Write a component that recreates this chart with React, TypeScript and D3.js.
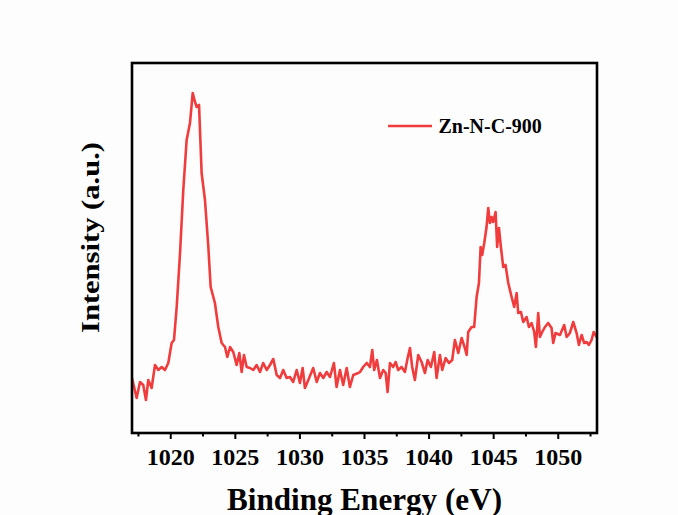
import React from "react";
import * as d3 from "d3";

const energies = [
  1017.0, 1017.36, 1017.62, 1017.87, 1018.08, 1018.26, 1018.52, 1018.78, 1019.04, 1019.3,
  1019.55, 1019.81, 1020.07, 1020.25, 1020.46, 1020.72, 1020.97, 1021.23, 1021.49, 1021.7,
  1021.88, 1022.01, 1022.19, 1022.39, 1022.65, 1022.91, 1023.09, 1023.42, 1023.68, 1023.94,
  1024.2, 1024.38, 1024.59, 1024.84, 1025.1, 1025.31, 1025.49, 1025.67, 1025.88, 1026.13,
  1026.39, 1026.65, 1026.91, 1027.16, 1027.43, 1027.68, 1027.94, 1028.2, 1028.46, 1028.71,
  1028.97, 1029.23, 1029.48, 1029.75, 1030.0, 1030.21, 1030.39, 1030.65, 1031.03, 1031.3,
  1031.55, 1031.81, 1032.07, 1032.33, 1032.63, 1032.84, 1033.1, 1033.35, 1033.62, 1033.87,
  1034.13, 1034.52, 1034.65, 1034.9, 1035.17, 1035.42, 1035.6, 1035.75, 1035.96, 1036.2,
  1036.45, 1036.64, 1036.79, 1036.97, 1037.22, 1037.41, 1037.61, 1037.87, 1038.13, 1038.34,
  1038.52, 1038.69, 1038.9, 1039.16, 1039.42, 1039.68, 1039.89, 1040.14, 1040.4, 1040.58,
  1040.84, 1041.02, 1041.28, 1041.54, 1041.79, 1042.0, 1042.26, 1042.52, 1042.77, 1042.91,
  1043.03, 1043.29, 1043.49, 1043.68, 1043.86, 1043.99, 1044.11, 1044.27, 1044.45, 1044.58,
  1044.71, 1044.84, 1044.96, 1045.15, 1045.27, 1045.41, 1045.56, 1045.74, 1045.92, 1046.13,
  1046.39, 1046.59, 1046.78, 1046.9, 1047.11, 1047.29, 1047.55, 1047.73, 1047.94, 1048.14,
  1048.27, 1048.45, 1048.58, 1048.76, 1048.97, 1049.22, 1049.48, 1049.61, 1049.79, 1050.13,
  1050.46, 1050.65, 1050.9, 1051.16, 1051.42, 1051.6, 1051.81, 1052.01, 1052.2, 1052.37,
  1052.58, 1052.74, 1052.97,
];

const intensities = [
  55, 35, 51, 48, 33, 53, 45, 68, 63, 66,
  63, 70, 90, 93, 126, 180, 243, 293, 310, 340,
  331, 326, 328, 260, 233, 186, 146, 130, 106, 90,
  86, 76, 86, 81, 68, 80, 61, 78, 66, 65,
  63, 68, 61, 70, 63, 68, 74, 58, 55, 63,
  55, 56, 51, 63, 50, 65, 45, 53, 65, 51,
  60, 55, 61, 56, 70, 46, 63, 48, 65, 46,
  58, 60, 61, 66, 70, 66, 83, 63, 73, 55,
  63, 60, 41, 70, 66, 71, 63, 66, 61, 75,
  85, 66, 53, 78, 71, 60, 73, 66, 81, 55,
  78, 63, 75, 70, 73, 93, 80, 95, 85, 78,
  101, 106, 106, 136, 150, 186, 178, 190, 206, 225,
  210, 216, 211, 221, 186, 205, 186, 166, 168, 150,
  136, 126, 140, 120, 121, 111, 116, 106, 110, 101,
  86, 120, 96, 101, 106, 110, 105, 90, 100, 98,
  108, 96, 100, 111, 100, 88, 98, 90, 91, 88,
  93, 101, 96,
];

const majorTicks = [1020, 1025, 1030, 1035, 1040, 1045, 1050];
const minorTicks = [1017.5, 1022.5, 1027.5, 1032.5, 1037.5, 1042.5, 1047.5, 1052.5];
const seriesName = "Zn-N-C-900";
const xTitle = "Binding Energy (eV)";
const yTitle = "Intensity (a.u.)";

const W = 678;
const H = 515;
const left = 132;
const right = 597;
const top = 63;
const bottom = 433;
const font = "'Times New Roman', 'Liberation Serif', serif";
const red = "#f03c3c";

export default function App() {
  const x = d3.scaleLinear().domain([1017, 1053]).range([left, right]);
  const y = d3.scaleLinear().domain([0, 370]).range([bottom, top]);
  const pts: [number, number][] = energies.map((e, i) => [e, intensities[i]]);
  const line = d3
    .line<[number, number]>()
    .x((d) => x(d[0]))
    .y((d) => y(d[1]));

  return (
    <svg
      width={W}
      height={H}
      style={{ position: "absolute", left: 0, top: 0, display: "block", background: "#fdfdfd" }}
    >
      <defs>
        <clipPath id="plotclip">
          <rect x={left} y={top} width={right - left} height={bottom - top} />
        </clipPath>
      </defs>
      <path
        d={line(pts) || ""}
        fill="none"
        stroke={red}
        strokeWidth={2.6}
        strokeLinejoin="round"
        clipPath="url(#plotclip)"
      />
      <rect
        x={left}
        y={top}
        width={right - left}
        height={bottom - top}
        fill="none"
        stroke="#000"
        strokeWidth={2.6}
      />
      {majorTicks.map((t) => (
        <g key={"M" + t}>
          <line x1={x(t)} x2={x(t)} y1={bottom} y2={bottom + 6} stroke="#000" strokeWidth={2} />
          <text
            x={x(t)}
            y={465}
            textAnchor="middle"
            fontFamily={font}
            fontWeight="bold"
            fontSize={24}
            fill="#000"
          >
            {t}
          </text>
        </g>
      ))}
      {minorTicks.map((t) => (
        <line key={"m" + t} x1={x(t)} x2={x(t)} y1={bottom} y2={bottom + 3.5} stroke="#000" strokeWidth={2} />
      ))}
      <text
        x={(left + right) / 2}
        y={510}
        textAnchor="middle"
        fontFamily={font}
        fontWeight="bold"
        fontSize={31}
        textLength={275}
        lengthAdjust="spacingAndGlyphs"
        fill="#000"
      >
        {xTitle}
      </text>
      <text
        transform={`translate(98.5, 237.5) rotate(-90)`}
        textAnchor="middle"
        fontFamily={font}
        fontWeight="bold"
        fontSize={25}
        textLength={191}
        lengthAdjust="spacingAndGlyphs"
        fill="#000"
      >
        {yTitle}
      </text>
      <line x1={388} x2={432} y1={126} y2={126} stroke={red} strokeWidth={2.6} />
      <text x={438.5} y={132.5} fontFamily={font} fontWeight="bold" fontSize={20} fill="#000">
        {seriesName}
      </text>
    </svg>
  );
}
